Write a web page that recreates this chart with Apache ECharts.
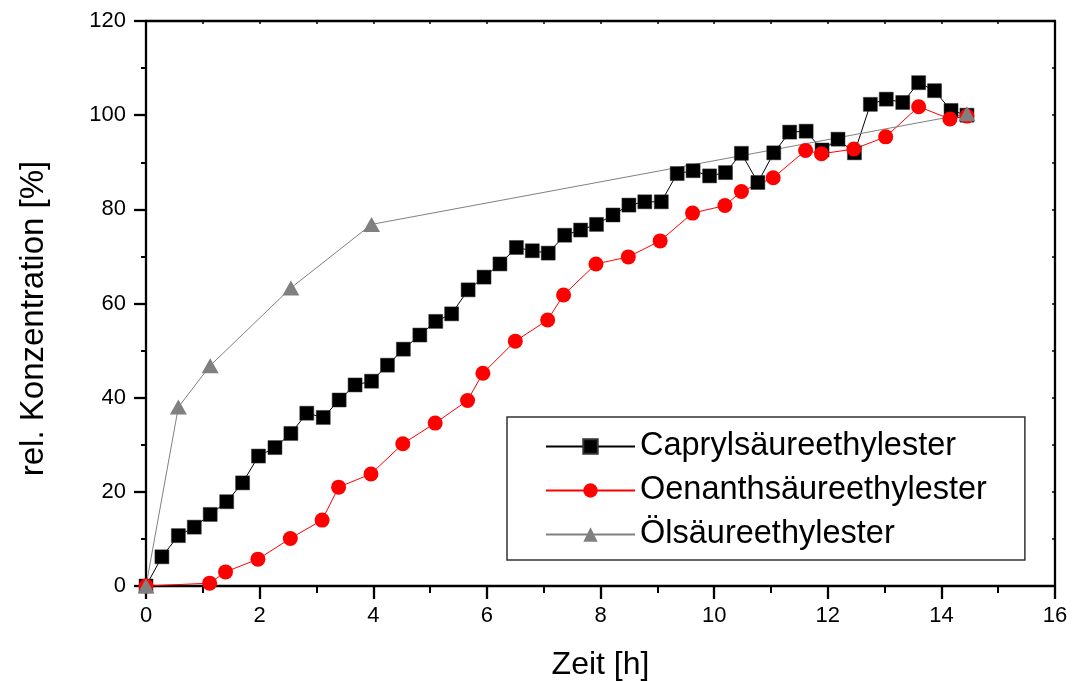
<!DOCTYPE html>
<html>
<head>
<meta charset="utf-8">
<script src="https://cdn.jsdelivr.net/npm/echarts@6/dist/echarts.min.js"></script>
<style>
html,body{margin:0;padding:0;background:#fff;}
#c{width:1073px;height:682px;}
</style>
</head>
<body>
<div id="c"></div>
<script>
// Caprylsäureethylester
var capX = [0, 0.28, 0.57, 0.85, 1.13, 1.42, 1.70, 1.98, 2.27, 2.55, 2.83, 3.12, 3.40, 3.68, 3.97, 4.25, 4.53, 4.82, 5.10, 5.38, 5.67, 5.95, 6.23, 6.52, 6.80, 7.08, 7.37, 7.65, 7.93, 8.22, 8.50, 8.78, 9.07, 9.35, 9.63, 9.92, 10.20, 10.48, 10.77, 11.05, 11.33, 11.62, 11.90, 12.18, 12.47, 12.75, 13.03, 13.32, 13.60, 13.88, 14.17, 14.45];
var capY = [0, 6.2, 10.7, 12.5, 15.2, 17.9, 21.9, 27.6, 29.4, 32.4, 36.7, 35.8, 39.5, 42.7, 43.5, 46.9, 50.3, 53.3, 56.2, 57.8, 62.9, 65.6, 68.4, 71.9, 71.2, 70.7, 74.5, 75.6, 76.8, 78.8, 80.9, 81.6, 81.6, 87.6, 88.2, 87.1, 87.8, 91.9, 85.7, 92.0, 96.4, 96.6, 92.6, 94.9, 92.0, 102.3, 103.4, 102.7, 106.9, 105.2, 101.0, 100.0];
// Oenanthsäureethylester
var oenX = [0, 1.12, 1.40, 1.97, 2.54, 3.10, 3.39, 3.96, 4.52, 5.09, 5.66, 5.93, 6.50, 7.07, 7.35, 7.92, 8.49, 9.05, 9.62, 10.19, 10.48, 11.04, 11.61, 11.89, 12.46, 13.02, 13.60, 14.15, 14.45];
var oenY = [0, 0.6, 3.0, 5.7, 10.1, 14.0, 21.0, 23.8, 30.2, 34.6, 39.4, 45.2, 52.0, 56.5, 61.8, 68.4, 69.9, 73.3, 79.2, 80.8, 83.8, 86.7, 92.5, 91.8, 92.8, 95.4, 101.8, 99.2, 99.8];
// Ölsäureethylester
var olX = [0, 0.57, 1.13, 2.55, 3.97, 14.45];
var olY = [0, 38.0, 46.8, 63.3, 76.8, 100.3];

var seriesNames = ['Caprylsäureethylester', 'Oenanthsäureethylester', 'Ölsäureethylester'];
var xTitle = 'Zeit [h]';
var yTitle = 'rel. Konzentration [%]';

function pairs(xs, ys) { return xs.map(function (x, i) { return [x, ys[i]]; }); }

var FONT = 'Liberation Sans, Arial, sans-serif';
var chart = echarts.init(document.getElementById('c'), null, {renderer: 'canvas'});
chart.setOption({
  backgroundColor: '#ffffff',
  animation: false,
  textStyle: {fontFamily: FONT, color: '#000'},
  grid: {left: 146, right: 18, top: 21, bottom: 96, containLabel: false, outerBoundsMode: 'none'},
  legend: {
    orient: 'vertical',
    left: 507, top: 417,
    padding: [13, 38, 9, 38],
    itemGap: 11,
    itemWidth: 89,
    itemHeight: 18,
    borderColor: '#333',
    borderWidth: 1.5,
    backgroundColor: '#fff',
    textStyle: {fontFamily: FONT, fontSize: 32.5, color: '#000'},
    data: seriesNames
  },
  xAxis: [{
    type: 'value', min: 0, max: 16, interval: 2, position: 'bottom',
    name: xTitle, nameLocation: 'middle', nameGap: 63,
    nameTextStyle: {fontFamily: FONT, fontSize: 32, color: '#000'},
    axisLine: {onZero: false, lineStyle: {color: '#000', width: 2.3}},
    axisTick: {inside: false, length: 13, lineStyle: {color: '#000', width: 2.3}},
    minorTick: {show: true, splitNumber: 2, length: 7, lineStyle: {color: '#000', width: 2}},
    axisLabel: {fontFamily: FONT, fontSize: 22, color: '#000', margin: 19},
    splitLine: {show: false}
  }, {
    type: 'value', min: 0, max: 16, interval: 1, position: 'top',
    axisLine: {onZero: false, lineStyle: {color: '#000', width: 2.3}},
    axisTick: {inside: true, length: 3, lineStyle: {color: '#000', width: 1.5}},
    axisLabel: {show: false},
    splitLine: {show: false}
  }],
  yAxis: [{
    type: 'value', min: 0, max: 120, interval: 20, position: 'left',
    name: yTitle, nameLocation: 'middle', nameGap: 96, nameRotate: 90,
    nameTextStyle: {fontFamily: FONT, fontSize: 33, color: '#000', padding: [0, 30, 0, 0]},
    axisLine: {onZero: false, lineStyle: {color: '#000', width: 2.3}},
    axisTick: {inside: false, length: 12, lineStyle: {color: '#000', width: 2.3}},
    minorTick: {show: true, splitNumber: 2, length: 5, lineStyle: {color: '#000', width: 2}},
    axisLabel: {fontFamily: FONT, fontSize: 22, color: '#000', margin: 20},
    splitLine: {show: false}
  }, {
    type: 'value', min: 0, max: 120, interval: 10, position: 'right',
    axisLine: {onZero: false, lineStyle: {color: '#000', width: 2.3}},
    axisTick: {inside: true, length: 3, lineStyle: {color: '#000', width: 1.5}},
    axisLabel: {show: false},
    splitLine: {show: false}
  }],
  series: [{
    name: seriesNames[0], type: 'line', xAxisIndex: 0, yAxisIndex: 0,
    data: pairs(capX, capY),
    symbol: 'rect', symbolSize: 14,
    lineStyle: {color: '#000', width: 1},
    itemStyle: {color: '#000', borderColor: '#333', borderWidth: 0.5}
  }, {
    name: seriesNames[1], type: 'line', xAxisIndex: 0, yAxisIndex: 0,
    data: pairs(oenX, oenY),
    symbol: 'circle', symbolSize: 15,
    lineStyle: {color: '#ff0000', width: 1},
    itemStyle: {color: '#ff0000'}
  }, {
    name: seriesNames[2], type: 'line', xAxisIndex: 0, yAxisIndex: 0,
    data: pairs(olX, olY),
    symbol: 'triangle', symbolSize: [17, 15],
    lineStyle: {color: '#808080', width: 1},
    itemStyle: {color: '#808080'}
  }]
});
</script>
</body>
</html>
